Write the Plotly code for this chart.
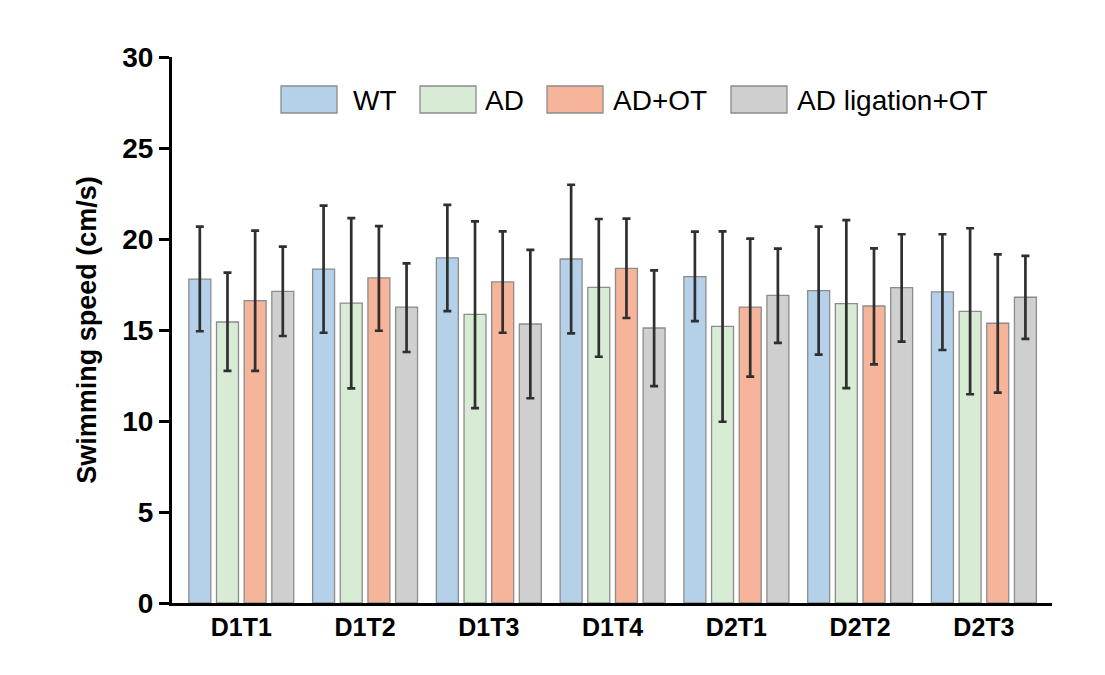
import plotly.graph_objects as go

categories = ["D1T1", "D1T2", "D1T3", "D1T4", "D2T1", "D2T2", "D2T3"]
series_names = ["WT", "AD", "AD+OT", "AD ligation+OT"]

wt_mean = [17.8, 18.35, 18.96, 18.9, 17.93, 17.16, 17.09]
wt_upper = [20.68, 21.83, 21.88, 22.98, 20.4, 20.68, 20.26]
wt_lower = [14.93, 14.85, 16.04, 14.82, 15.49, 13.65, 13.9]

ad_mean = [15.44, 16.48, 15.86, 17.34, 15.2, 16.45, 16.02]
ad_upper = [18.15, 21.15, 20.97, 21.1, 20.42, 21.04, 20.59]
ad_lower = [12.75, 11.79, 10.71, 13.53, 9.96, 11.81, 11.47]

adot_mean = [16.61, 17.86, 17.64, 18.39, 16.26, 16.32, 15.37]
adot_upper = [20.46, 20.71, 20.42, 21.12, 20.02, 19.49, 19.16]
adot_lower = [12.75, 14.96, 14.85, 15.66, 12.44, 13.11, 11.56]

lig_mean = [17.12, 16.26, 15.33, 15.11, 16.9, 17.33, 16.8]
lig_upper = [19.58, 18.66, 19.4, 18.28, 19.47, 20.26, 19.07]
lig_lower = [14.67, 13.79, 11.25, 11.92, 14.29, 14.36, 14.51]

y_ticks = [0, 5, 10, 15, 20, 25, 30]

colors = ["#b5d1ea", "#d7ebd5", "#f6b49a", "#cfcfcf"]
outline = "#8c8c8c"

data = [
    (wt_mean, wt_upper, wt_lower),
    (ad_mean, ad_upper, ad_lower),
    (adot_mean, adot_upper, adot_lower),
    (lig_mean, lig_upper, lig_lower),
]

fig = go.Figure()
for name, col, (m, up, lo) in zip(series_names, colors, data):
    fig.add_trace(go.Bar(
        x=categories, y=m, name=name,
        marker=dict(color=col, line=dict(color=outline, width=1.3)),
        error_y=dict(type="data", symmetric=False,
                     array=[u - v for u, v in zip(up, m)],
                     arrayminus=[v - l for v, l in zip(m, lo)],
                     color="#2f2f2f", thickness=2.7, width=4),
        showlegend=False,
    ))

# page offset (body margin) of 8px
OFF = 8
W, H = 1105, 675
ml, mt = 172 - OFF, 57 - OFF
mr = W - (1052 - OFF)
mb = H - (603 - OFF)
pw, ph = W - ml - mr, H - mt - mb

def px2paper_x(px):
    return (px - OFF - ml) / pw

def px2paper_y(py):
    return (H - mb - (py - OFF)) / ph

# custom legend with large swatches (positions in page pixels)
leg_swatch_x = [281, 420, 547, 731]
leg_text_x = [351, 483, 611, 795]
sw_w, sw_top, sw_bot = 56, 86, 113

shapes = []
annotations = []
for name, col, sx, tx in zip(series_names, colors, leg_swatch_x, leg_text_x):
    shapes.append(dict(type="rect", xref="paper", yref="paper",
                       x0=px2paper_x(sx), x1=px2paper_x(sx + sw_w),
                       y0=px2paper_y(sw_bot), y1=px2paper_y(sw_top),
                       fillcolor=col, line=dict(color=outline, width=1.3)))
    annotations.append(dict(xref="paper", yref="paper",
                            x=px2paper_x(tx), y=px2paper_y((sw_top + sw_bot) / 2 + 1),
                            xanchor="left", yanchor="middle", text=name,
                            showarrow=False,
                            font=dict(family="Liberation Sans, Arial", size=28, color="black")))

fig.update_layout(
    width=W, height=H,
    margin=dict(l=ml, r=mr, t=mt, b=mb),
    paper_bgcolor="white", plot_bgcolor="white",
    barmode="group", bargap=0.106, bargroupgap=0.206,
    shapes=shapes, annotations=annotations,
    font=dict(family="Liberation Sans, Arial", color="black"),
)
fig.update_xaxes(
    range=[-0.56, 6.55], showline=True, linecolor="black", linewidth=3,
    ticks="", showgrid=False, zeroline=False,
    tickfont=dict(family="Liberation Sans, Arial", size=25, color="black", weight="bold"),
)
fig.update_yaxes(
    range=[0, 30], tickvals=y_ticks, showline=True, linecolor="black", linewidth=3,
    ticks="outside", ticklen=10, tickwidth=3, tickcolor="black",
    showgrid=False, zeroline=False,
    tickfont=dict(family="Liberation Sans, Arial", size=28, color="black", weight="bold"),
    title=dict(text="Swimming speed (cm/s)", standoff=18,
               font=dict(family="Liberation Sans, Arial", size=27, color="black", weight="bold")),
)

fig.write_html("out.html")
